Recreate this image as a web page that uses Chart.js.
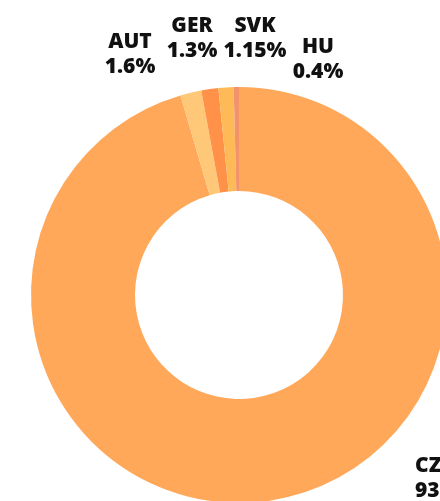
<!DOCTYPE html>
<html lang="en">
<head>
    <meta charset="UTF-8">
    <title>Share by country</title>
    <script src="https://cdn.jsdelivr.net/npm/chart.js@4.4.0/dist/chart.umd.min.js"></script>
    <style>
        html, body { margin: 0; padding: 0; background: #fff; overflow: hidden; }
        #wrap { position: absolute; left: 0; top: 0; width: 478px; height: 590px; }
    </style>
</head>
<body>
    <div id="wrap"><canvas id="chart" width="478" height="590"></canvas></div>

    <script>
        // data
        const countries = ['CZ', 'AUT', 'GER', 'SVK', 'HU'];
        const shares = [93.55, 1.6, 1.3, 1.15, 0.4];
        const shareLabels = ['93.55%', '1.6%', '1.3%', '1.15%', '0.4%'];
        const colors = ['#FFA85A', '#FFC878', '#FF9248', '#FFBA58', '#F2936A'];

        // where each label sits (x, baseline of first line, alignment)
        const labelPos = [
            { x: 415, y: 472, align: 'left' },
            { x: 130, y: 48, align: 'center' },
            { x: 192, y: 32, align: 'center' },
            { x: 255, y: 32, align: 'center' },
            { x: 318, y: 53, align: 'center' }
        ];

        const labelPlugin = {
            id: 'countryLabels',
            afterDraw(chart) {
                const ctx = chart.ctx;
                ctx.save();
                ctx.fillStyle = '#111';
                ctx.font = '800 21px "Open Sans"';
                ctx.textBaseline = 'alphabetic';
                countries.forEach((c, i) => {
                    const p = labelPos[i];
                    ctx.textAlign = p.align;
                    ctx.fillText(c, p.x, p.y);
                    ctx.fillText(shareLabels[i], p.x, p.y + 25);
                });
                ctx.restore();
            }
        };

        const ctx = document.getElementById('chart').getContext('2d');
        const myChart = new Chart(ctx, {
            type: 'doughnut',
            data: {
                labels: countries,
                datasets: [{
                    data: shares,
                    backgroundColor: colors,
                    borderWidth: 0
                }]
            },
            options: {
                responsive: false,
                animation: false,
                cutout: '50%',
                layout: { padding: { left: 31, right: 31, top: 87, bottom: 87 } },
                plugins: {
                    legend: { display: false },
                    tooltip: { enabled: false }
                }
            },
            plugins: [labelPlugin]
        });
    </script>
</body>
</html>
